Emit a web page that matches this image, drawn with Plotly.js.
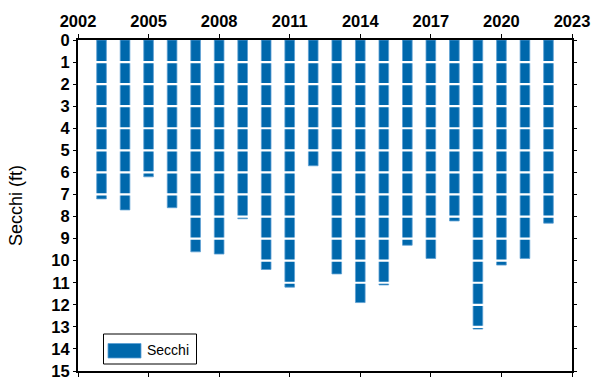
<!DOCTYPE html>
<html>
<head>
<meta charset="utf-8">
<script src="https://cdn.plot.ly/plotly-3.0.1.min.js"></script>
<style>html,body{margin:0;padding:0;background:#fff;}#chart{width:592px;height:379px;}</style>
</head>
<body>
<div id="chart"></div>
<script>
const seriesName = "Secchi";
const years = [2003,2004,2005,2006,2007,2008,2009,2010,2011,2012,2013,2014,2015,2016,2017,2018,2019,2020,2021,2022];
const secchiFt = [7.2,7.7,6.2,7.6,9.6,9.7,8.1,10.4,11.2,5.7,10.6,11.9,11.1,9.3,9.9,8.2,13.1,10.2,9.9,8.3];
const xTicks = [2002,2005,2008,2011,2014,2017,2020,2023];
const yTicks = [0,1,2,3,4,5,6,7,8,9,10,11,12,13,14,15];

const barColor = "#0068AC";
const FONT = "Liberation Sans, Arial, sans-serif";
const T = 40, B = 8, L = 78, R = 20;
const PW = 592 - L - R, PH = 379 - T - B;
const px = X => (X - L) / PW;
const py = Y => (379 - B - Y) / PH;

const shapes = yTicks.filter(v => v > 0 && v < 15).map(v => ({
  type: "line", xref: "paper", yref: "y", x0: 0.004, x1: 0.996, y0: v, y1: v,
  line: {color: "#ffffff", width: 2.2}, layer: "above"
}));
// custom legend box
shapes.push({type:"rect", xref:"paper", yref:"paper",
  x0:px(103.5), x1:px(196.5), y0:py(364), y1:py(334),
  line:{color:"#000", width:1}, fillcolor:"#fff", layer:"above"});
shapes.push({type:"rect", xref:"paper", yref:"paper",
  x0:px(108), x1:px(141), y0:py(358), y1:py(343.5),
  line:{color:"#5a9fd4", width:0.8}, fillcolor:barColor, layer:"above"});

const data = [{
  type: "bar", x: years, y: secchiFt, name: seriesName, base: 0,
  width: 0.41,
  marker: {color: barColor, line: {color: "#5d9fd3", width: 0.8}},
  showlegend: false, hoverinfo: "x+y"
}];

const layout = {
  width: 592, height: 379,
  margin: {l: L, r: R, t: T, b: B, pad: 0},
  paper_bgcolor: "#fff", plot_bgcolor: "#fff",
  font: {family: FONT, color: "#000"},
  xaxis: {
    side: "top", range: [2002, 2023], tickmode: "array", tickvals: xTicks,
    ticktext: xTicks.map(String),
    ticks: "outside", ticklen: 4, tickwidth: 1, tickcolor: "#000",
    showline: true, linewidth: 2, linecolor: "#000", mirror: "ticks",
    showgrid: false, zeroline: false, ticklabeloverflow: "allow",
    tickfont: {size: 16.5, family: FONT, weight: "bold", color: "#000"}
  },
  yaxis: {
    range: [15, 0], tickmode: "array", tickvals: yTicks,
    ticks: "outside", ticklen: 3, tickwidth: 1, tickcolor: "#000",
    showline: true, linewidth: 2, linecolor: "#000", mirror: "ticks",
    showgrid: false, zeroline: false, ticklabeloverflow: "allow",
    automargin: false,
    tickfont: {size: 16.5, family: FONT, weight: "bold", color: "#000"},
    title: {text: "Secchi (ft)", standoff: 24, font: {size: 18, family: FONT, color: "#000"}}
  },
  shapes: shapes,
  annotations: [{
    xref: "paper", yref: "paper", x: px(145), y: py(350),
    xanchor: "left", yanchor: "middle", text: seriesName, showarrow: false,
    font: {size: 14, family: FONT, color: "#000"}
  }],
  showlegend: false
};

Plotly.newPlot("chart", data, layout, {displayModeBar: false, staticPlot: true});
</script>
</body>
</html>
